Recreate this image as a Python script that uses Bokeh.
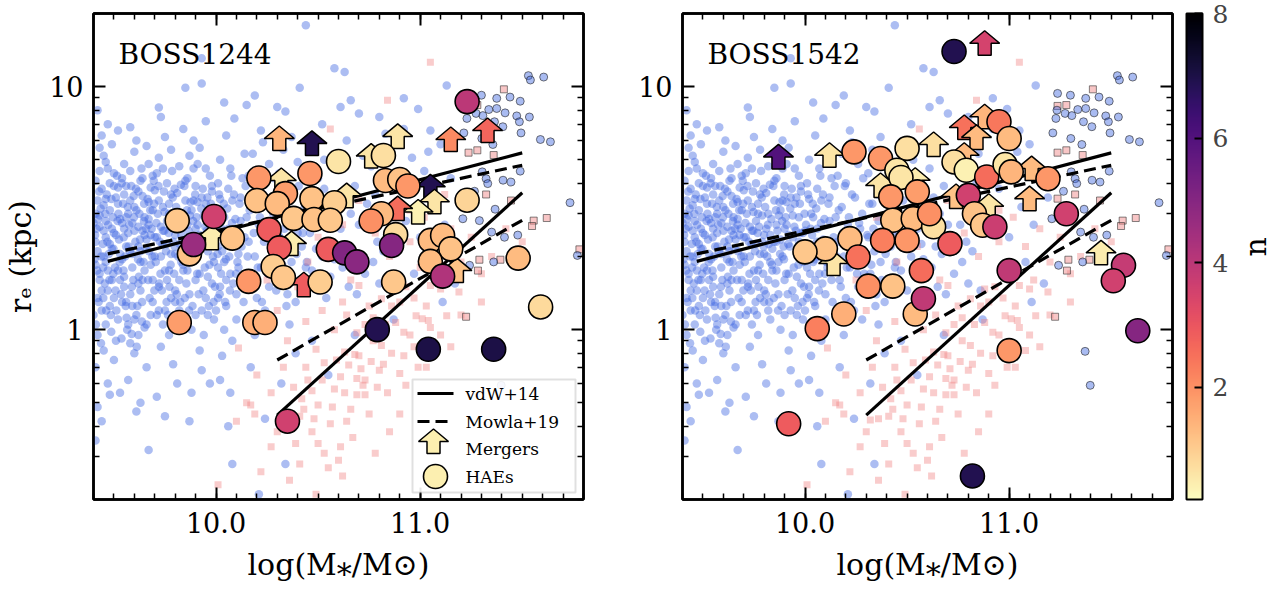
import numpy as np
from bokeh.plotting import figure
from bokeh.models import (LinearColorMapper, ColorBar, FixedTicker, LinearAxis, LogAxis,
                          Range1d, Label, BoxAnnotation, CustomJSTickFormatter)
from bokeh.layouts import row
from bokeh.palettes import Magma256
from bokeh.transform import transform
from bokeh.embed import file_html
from bokeh.resources import INLINE

# ---------------- data ----------------
# field star-forming galaxies (log M*, r_e [kpc]) -- shared background of both panels
field_a = [(9.41,2.3),(9.43,1.6),(9.42,3.4),(9.45,2.0),(9.44,1.2),(9.46,2.8),(9.41,4.1),(9.47,1.45),(9.43,2.65),(9.48,3.1),
           (9.42,0.95),(9.45,5.2),(9.49,2.15),(9.41,1.85),(9.46,1.05),(9.44,3.8),(9.5,2.5),(9.47,4.6),(9.42,1.35),(9.52,1.75),
           (9.43,2.95),(9.51,3.5),(9.45,0.82),(9.53,2.05),(9.48,1.25),(9.4,2.75),(9.54,4.2),(9.49,5.8),(9.52,1.1),(9.46,2.4),
           (9.5,3.9),(9.53,2.85),(9.41,0.7),(9.55,1.5),(9.44,6.3),(9.47,0.6),(9.42,0.48),(9.51,0.9),(9.48,2.25),(9.54,1.95),
           (9.43,1.7),(9.52,3.3),(9.46,4.9),(9.55,2.6),(9.49,1.6),(9.5,0.75),(9.45,3.25),(9.42,8.0),(9.47,7.0),(9.53,0.55),
           (9.41,0.35),(9.44,0.42),(9.48,0.54),(9.52,6.6),(9.54,1.3),(9.4,1.15),(9.5,4.4),(9.46,1.9),(9.43,5.6),(9.55,3.6)]
field_b = [(9.56,2.2),(9.58,1.4),(9.57,3.0),(9.6,2.55),(9.59,1.8),(9.62,3.7),(9.61,1.15),(9.63,2.1),(9.58,4.5),(9.64,1.6),
           (9.6,5.4),(9.65,2.9),(9.62,0.95),(9.66,2.35),(9.57,1.05),(9.67,3.35),(9.63,4.1),(9.68,1.85),(9.59,2.75),(9.69,1.3),
           (9.61,6.0),(9.65,1.02),(9.56,3.9),(9.67,4.8),(9.64,2.55),(9.6,0.8),(9.66,0.7),(9.68,2.45),(9.62,1.55),(9.58,6.8),
           (9.69,3.1),(9.57,0.62),(9.63,0.5),(9.67,0.32),(9.61,0.46),(9.66,5.7),(9.59,1.25),(9.64,3.55),(9.7,2.0),(9.56,2.9),
           (9.62,2.2),(9.68,1.15),(9.72,8.2),(9.58,0.88),(9.65,1.75),(9.6,3.2),(9.69,4.3),(9.55,1.65),(9.63,1.9),(9.67,2.7)]
field_c = [(9.71,2.4),(9.72,1.5),(9.74,3.2),(9.73,2.0),(9.75,1.2),(9.76,2.8),(9.71,4.4),(9.77,1.75),(9.78,3.6),(9.74,1.05),
           (9.79,2.3),(9.72,5.1),(9.8,1.45),(9.76,4.0),(9.81,2.6),(9.73,0.85),(9.82,3.0),(9.75,6.2),(9.83,1.9),(9.77,0.95),
           (9.84,2.15),(9.78,5.5),(9.8,1.3),(9.71,0.53),(9.79,0.72),(9.82,4.7),(9.74,2.55),(9.85,3.4),(9.76,1.6),(9.83,1.1),
           (9.7,3.75),(9.81,0.6),(9.78,2.05),(9.84,6.7),(9.73,7.5),(9.77,3.0),(9.8,2.45),(9.75,0.44),(9.82,1.6),(9.72,1.2)]
field_d = [(9.86,2.3),(9.87,1.4),(9.88,3.1),(9.89,2.0),(9.9,1.15),(9.91,2.7),(9.86,4.2),(9.92,1.7),(9.93,3.5),(9.88,1.0),
           (9.94,2.4),(9.87,5.2),(9.95,1.35),(9.9,3.9),(9.96,2.1),(9.92,0.82),(9.97,2.9),(9.89,6.0),(9.98,1.55),(9.93,0.68),
           (9.99,2.5),(9.91,4.8),(9.96,1.15),(9.85,9.9),(9.93,10.3),(9.93,13.1),(9.95,3.3),(9.88,0.55),(9.97,4.3),(9.99,1.9),
           (9.86,1.75),(9.94,0.95),(9.9,2.6),(9.98,3.7),(9.92,5.6),(9.87,0.42),(9.95,7.2),(10.0,1.2),(9.89,3.4),(9.97,0.6)]
field_e = [(10.01,2.2),(10.02,1.5),(10.03,3.0),(10.04,1.9),(10.05,1.25),(10.06,2.6),(10.01,4.0),(10.07,1.7),(10.08,3.4),(10.04,1.0),
           (10.09,2.35),(10.02,5.0),(10.1,1.4),(10.06,3.8),(10.11,2.05),(10.03,0.78),(10.12,2.8),(10.05,6.3),(10.13,1.6),(10.08,0.9),
           (10.14,2.4),(10.07,4.6),(10.1,1.1),(10.06,0.4),(10.08,0.28),(10.12,3.5),(10.02,0.62),(10.14,5.3),(10.09,7.4),(10.04,8.6),
           (10.11,1.8),(10.13,4.2),(10.01,1.35),(10.15,2.9),(10.07,0.55)]
field_f = [(10.16,2.3),(10.17,1.6),(10.18,3.2),(10.19,2.0),(10.2,1.35),(10.21,2.7),(10.16,4.3),(10.22,1.8),(10.23,3.6),(10.24,1.2),
           (10.25,2.5),(10.18,5.3),(10.26,1.5),(10.2,4.0),(10.27,2.15),(10.19,0.95),(10.28,3.0),(10.22,6.6),(10.29,1.7),(10.24,0.43),
           (10.19,9.2),(10.15,8.4),(10.3,8.25),(10.17,0.7),(10.26,4.8),(10.21,0.21),(10.28,1.1),(10.23,5.9),(10.27,2.6),(10.16,1.1)]
field_g = [(10.31,2.4),(10.32,1.7),(10.33,3.3),(10.34,2.1),(10.35,1.4),(10.36,2.8),(10.31,4.4),(10.37,1.9),(10.38,3.7),(10.39,1.3),
           (10.4,2.5),(10.33,5.5),(10.41,1.6),(10.35,4.1),(10.42,2.2),(10.34,7.9),(10.41,9.9),(10.44,17.9),(10.36,1.05),(10.43,3.0),
           (10.37,6.2),(10.39,0.8),(10.44,1.8),(10.32,0.6),(10.34,0.28),(10.4,4.9),(10.42,2.75)]
field_h = [(10.46,2.5),(10.47,1.75),(10.48,3.4),(10.49,2.15),(10.5,1.45),(10.51,2.9),(10.46,4.5),(10.52,2.0),(10.53,3.8),(10.54,1.35),
           (10.55,2.6),(10.48,5.6),(10.56,1.65),(10.5,4.2),(10.57,2.25),(10.58,11.9),(10.52,7.0),(10.59,3.1),(10.47,0.9),(10.55,0.65),
           (10.53,5.0),(10.58,1.95)]
field_i = [(10.61,2.6),(10.62,1.8),(10.63,3.5),(10.64,2.2),(10.65,1.5),(10.66,3.0),(10.61,4.6),(10.67,2.05),(10.68,3.9),(10.69,1.4),
           (10.7,2.7),(10.63,11.5),(10.61,8.25),(10.66,8.8),(10.7,7.76),(10.72,5.2),(10.64,6.0),(10.73,1.7),(10.74,3.3),(10.68,0.95)]
field_j = [(10.76,2.7),(10.77,1.9),(10.78,3.6),(10.79,2.3),(10.8,1.55),(10.81,3.1),(10.76,4.7),(10.82,2.1),(10.8,7.5),(10.84,4.0),
           (10.86,1.45),(10.85,5.3),(10.88,2.5),(10.83,6.4),(10.89,3.3),(10.87,1.1)]
field_k = [(10.92,8.95),(10.92,6.7),(10.99,8.1),(11.04,5.4),(11.13,10.1),(10.93,2.8),(10.95,3.8),(10.97,1.7),(11.0,2.4),(11.02,4.5),
           (11.06,3.2),(11.08,1.9),(11.1,5.8),(11.12,2.7),(11.15,4.2),(11.17,1.55),(11.19,3.5),(10.96,5.1),(11.05,6.6),(11.11,1.3)]
# dense core of the field cloud
core_a = [(9.405,1.95),(9.415,2.6),(9.425,1.3),(9.435,3.15),(9.445,2.25),(9.455,1.55),(9.465,3.6),(9.475,2.05),(9.485,1.15),(9.495,2.9),
          (9.505,1.8),(9.515,4.3),(9.525,2.35),(9.535,1.4),(9.545,3.3),(9.555,2.0),(9.565,1.0),(9.575,2.7),(9.585,3.9),(9.595,1.6),
          (9.605,2.3),(9.615,1.25),(9.625,3.0),(9.635,4.6),(9.645,1.9),(9.41,3.0),(9.42,2.1),(9.43,4.5),(9.44,1.45),(9.45,2.55),
          (9.46,3.45),(9.47,1.75),(9.48,4.0),(9.49,2.6),(9.5,1.35),(9.51,2.45),(9.52,3.85),(9.53,1.6),(9.54,2.75),(9.55,4.8),
          (9.56,1.3),(9.57,2.5),(9.58,3.4),(9.59,2.05),(9.6,1.1),(9.61,3.1),(9.62,2.65),(9.63,1.45),(9.64,4.2),(9.65,2.45),
          (9.412,1.05),(9.437,0.88),(9.462,1.2),(9.487,0.98),(9.512,1.2),(9.537,0.92),(9.562,1.12),(9.587,0.96),(9.612,0.85),(9.637,1.08)]
core_b = [(9.655,2.15),(9.665,3.45),(9.675,1.35),(9.685,2.6),(9.695,4.1),(9.705,1.9),(9.715,3.0),(9.725,2.3),(9.735,1.45),(9.745,3.7),
          (9.755,2.1),(9.765,1.15),(9.775,2.65),(9.785,4.5),(9.795,1.7),(9.805,3.2),(9.815,2.0),(9.825,1.3),(9.835,2.85),(9.845,3.9),
          (9.855,1.55),(9.865,2.55),(9.875,3.35),(9.885,1.25),(9.895,2.2),(9.66,1.05),(9.67,2.85),(9.68,3.85),(9.69,1.6),(9.7,2.4),
          (9.71,1.15),(9.72,3.4),(9.73,2.65),(9.74,4.6),(9.75,1.75),(9.76,2.25),(9.77,3.3),(9.78,1.35),(9.79,2.95),(9.8,2.05),
          (9.81,3.65),(9.82,1.2),(9.83,2.45),(9.84,1.75),(9.85,4.1),(9.86,2.7),(9.87,1.9),(9.88,2.35),(9.89,4.6),(9.9,1.6)]
core_c = [(9.905,2.9),(9.915,1.4),(9.925,2.2),(9.935,3.8),(9.945,1.8),(9.955,2.55),(9.965,1.25),(9.975,3.3),(9.985,2.0),(9.995,1.5),
          (10.005,2.7),(10.015,3.6),(10.025,1.7),(10.035,2.45),(10.045,1.3),(10.055,3.15),(10.065,2.0),(10.075,4.3),(10.085,1.55),(10.095,2.85),
          (10.105,1.9),(10.115,3.3),(10.125,2.2),(10.135,1.3),(10.145,3.9),(9.91,3.35),(9.92,2.45),(9.93,1.2),(9.94,2.95),(9.95,4.6),
          (9.96,1.65),(9.97,2.3),(9.98,3.9),(9.99,1.1),(10.0,2.55),(10.01,1.8),(10.02,3.45),(10.03,2.1),(10.04,2.9),(10.05,1.6)]
core_d = [(10.155,2.0),(10.165,3.1),(10.175,1.5),(10.185,2.5),(10.195,3.9),(10.205,1.8),(10.215,2.9),(10.225,1.3),(10.235,2.3),(10.245,3.5),
          (10.255,1.7),(10.265,2.75),(10.275,1.95),(10.285,4.2),(10.295,1.45),(10.305,2.45),(10.315,3.3),(10.325,1.85),(10.335,2.6),(10.345,1.25),
          (10.355,3.6),(10.365,2.15),(10.375,1.6),(10.385,2.95),(10.395,2.05),(10.405,3.9),(10.415,1.45),(10.425,2.5),(10.435,3.2),(10.445,1.9)]
core_e = [(9.408,2.45),(9.418,1.75),(9.428,3.7),(9.438,2.0),(9.448,1.35),(9.458,3.0),(9.468,2.3),(9.478,1.6),(9.488,3.45),(9.498,2.15),
          (9.508,1.45),(9.518,2.8),(9.528,1.9),(9.538,4.0),(9.548,2.4),(9.558,1.25),(9.568,3.2),(9.578,2.1),(9.588,1.5),(9.598,2.9),
          (9.608,3.8),(9.618,1.95),(9.628,2.35),(9.638,1.3),(9.648,3.3),(9.658,2.6),(9.668,1.6),(9.678,3.1),(9.688,2.0),(9.698,1.45),
          (9.708,2.75),(9.718,3.9),(9.728,1.7),(9.738,2.25),(9.748,3.05),(9.758,1.3),(9.768,2.5),(9.778,1.85),(9.788,3.5),(9.798,2.2),
          (9.808,1.4),(9.818,2.7),(9.828,3.95),(9.838,1.85),(9.848,2.3),(9.858,3.1),(9.868,1.2),(9.878,2.05),(9.888,2.8),(9.898,3.6),
          (9.908,1.7),(9.918,2.25),(9.928,3.15),(9.938,1.45),(9.948,2.65),(9.958,3.5),(9.968,1.85),(9.978,2.5),(9.988,1.3),(9.998,3.0),
          (10.008,2.05),(10.018,1.4),(10.028,2.6),(10.038,3.3),(10.048,1.95),(10.058,2.3),(10.068,1.45),(10.078,2.75),(10.088,3.6),(10.098,1.7),
          (9.422,2.85),(9.447,1.8),(9.472,2.7),(9.497,1.7),(9.522,3.0),(9.547,1.75),(9.572,2.2),(9.597,3.55),(9.622,1.65),(9.647,2.8),
          (9.672,2.1),(9.697,3.3),(9.722,1.55),(9.747,2.55),(9.772,1.5),(9.797,3.8),(9.822,2.25),(9.847,1.35),(9.872,2.95),(9.897,1.95)]

# field quiescent galaxies
quiescent = [(10.15,0.50),(10.17,0.49),(10.19,0.45),(10.30,0.38),(10.32,0.425),(10.36,0.43),(10.39,0.34),(10.50,0.34),(10.61,0.33),
             (10.60,0.29),(10.50,0.49),(10.57,0.48),(10.64,0.42),(10.48,0.43),(10.41,0.44),(10.44,0.70),(10.53,0.73),(10.61,0.64),
             (10.65,0.715),(10.69,0.63),(10.69,0.54),(10.73,0.54),(10.72,0.59),(10.63,0.81),(10.68,0.79),(10.70,0.78),(10.49,0.83),
             (10.35,0.90),(10.44,1.08),(10.73,1.05),(10.70,1.52),(10.11,0.84),(10.01,0.23),(10.36,0.24),(10.22,0.26),(10.49,0.21),
             (10.81,1.34),(10.88,1.47),(10.93,1.50),(11.05,1.52),(11.10,1.47),(11.19,1.43),(10.98,1.14),(11.01,1.11),(11.04,1.09),
             (11.13,1.14),(10.83,1.05),(10.88,1.07),(10.92,0.975),(11.05,1.02),(10.77,0.90),(10.81,0.86),(10.92,0.78),(10.76,0.74),
             (10.73,0.62),(10.84,0.55),(10.93,0.59),(11.05,12.6),(10.84,8.8),(10.56,6.7),(10.30,1.2),(10.25,1.6),(10.45,1.9),
             (10.55,2.2),(10.62,1.3),(10.78,2.5),(10.85,2.0),(10.95,2.3),(11.0,1.8),(11.08,2.2),(11.15,2.6),(11.2,1.9),(11.25,2.4),
             (11.3,1.7),(10.4,1.5),(10.52,1.2),(10.66,1.6),(10.75,1.25),(10.9,1.3),(11.1,0.95),(11.2,1.15),(10.8,0.68),(10.97,0.85),
             (10.58,0.57),(10.45,0.62),(10.27,0.55),(10.33,0.7),(10.2,0.65),(10.1,0.42),(10.95,3.1),(11.02,2.9),(10.7,3.4),
             (10.62,2.7),(10.5,2.4),(10.35,2.9),(11.12,3.6),(10.9,0.45),(10.85,0.38),(10.78,0.31),(10.55,0.27),(11.03,0.7),
             (11.15,0.85),(10.67,0.36),(10.42,0.52),(11.35,2.0),(11.42,2.6),(11.5,2.3),(11.3,1.3),
             (10.38,0.58),(10.43,0.47),(10.47,0.56),(10.52,0.62),(10.56,0.41),(10.59,0.75),(10.63,0.55),(10.66,0.47),(10.71,0.69),
             (10.75,0.45),(10.79,0.58),(10.82,0.72),(10.86,0.8),(10.9,0.66),(10.95,0.95),(10.99,0.7),(11.03,1.25),(11.08,0.82),
             (10.58,1.0),(10.64,1.15),(10.69,0.97),(10.77,1.12),(10.86,1.25),(10.97,1.35),(11.12,1.6),(10.47,0.38),(10.53,0.31),
             (10.27,0.33),(10.41,0.28),(10.62,0.25)]

# high-mass comparison sample (outlined markers)
massive_sf = [(11.53,11.1),(11.54,10.65),(11.605,10.95),(11.237,9.38),(11.30,9.22),(11.375,8.95),(11.44,9.06),(11.49,8.71),
              (11.234,8.0),(11.274,7.76),(11.307,7.6),(11.336,8.05),(11.375,8.13),(11.416,7.8),(11.473,7.58),(11.535,7.5),
              (11.229,7.4),(11.364,7.17),(11.405,6.84),(11.486,7.17),(11.214,6.45),(11.302,6.12),(11.356,5.78),(11.494,6.45),
              (11.589,6.06),(11.638,5.93),(11.304,4.46),(11.323,4.18),(11.331,3.99),(11.406,4.12),(11.445,4.05),(11.49,4.49),
              (11.266,3.71),(11.367,3.13),(11.734,3.33),(11.209,2.86),(11.242,1.84),(11.413,2.40),(11.478,2.45),(11.77,2.02),
              (11.372,0.814),(11.397,0.59),(11.36,1.9),(11.29,2.81),(11.35,2.52)]
massive_q = [(11.41,9.75),(11.237,8.33),(11.28,8.4),(11.237,5.35),(11.28,5.47),(11.36,5.23),(11.237,3.46),(11.323,3.6),
             (11.445,3.4),(11.556,2.81),(11.548,2.67),(11.62,2.88),(11.393,1.94),(11.29,1.94),(11.283,1.75),(11.78,2.14),(11.225,1.13)]

# size-mass relations (end points)
vdw_sf_mass, vdw_sf_re = [9.47, 11.50], [1.91, 5.34]
mowla_sf_mass, mowla_sf_re = [9.47, 11.50], [2.05, 4.75]
vdw_q_mass, vdw_q_re = [10.30, 11.50], [0.445, 3.66]
mowla_q_mass, mowla_q_re = [10.30, 11.50], [0.75, 2.82]

# BOSS1244
b1244_hae_mass = [11.23,10.60,10.82,10.21,10.46,10.20,10.34,10.30,10.47,10.58,10.38,10.48,10.56,9.99,9.81,10.08,9.87,9.89,10.26,10.31,
                  10.28,10.33,10.16,10.51,10.55,10.83,10.90,10.94,11.23,10.81,10.76,10.88,10.86,10.63,10.69,11.05,11.11,11.15,11.05,11.11,
                  10.87,11.48,11.59,10.79,11.04,11.36,9.82,10.19,10.24,10.35]
b1244_hae_re = [8.68,4.92,5.21,4.21,4.39,3.40,3.63,3.30,3.46,3.33,2.87,2.84,2.82,2.92,2.81,2.38,2.05,2.24,2.58,2.17,
                1.82,1.64,1.58,1.57,2.14,4.11,4.15,3.90,3.41,3.00,2.80,2.46,2.22,2.07,1.90,2.33,2.44,2.15,1.91,1.66,
                1.57,1.97,1.24,1.00,0.83,0.83,1.07,1.07,1.07,0.42]
b1244_hae_n = [4.0,0.6,0.7,1.9,1.9,1.2,1.8,1.3,1.2,1.0,1.1,1.2,1.1,3.6,1.1,1.2,1.2,4.6,2.9,2.9,
               1.0,1.1,1.9,1.0,2.9,1.3,1.2,1.9,0.9,1.3,2.0,0.8,5.0,5.1,4.9,1.3,1.3,1.2,1.3,4.2,
               1.1,1.3,0.8,6.9,7.0,7.0,1.8,1.5,1.5,3.6]
b1244_mrg_mass = [10.31,10.47,10.89,11.15,11.33,10.76,11.05,11.07,10.99,10.89,9.98,10.37,10.43,11.18,10.32,10.64]
b1244_mrg_re = [6.12,5.84,6.24,6.06,6.60,5.18,3.87,3.36,3.05,3.15,2.39,2.26,1.53,1.75,4.11,3.56]
b1244_mrg_n = [1.4,6.9,0.6,2.1,2.7,0.6,6.9,0.6,0.4,2.6,0.5,0.5,2.9,1.2,0.6,0.6]

# BOSS1542
b1542_hae_mass = [10.73,10.24,10.37,10.50,10.45,10.47,10.73,10.79,10.42,10.55,10.43,10.53,10.63,10.61,10.71,10.38,10.50,10.22,10.10,10.00,
                  10.26,10.57,10.31,10.43,10.54,10.58,10.19,10.06,9.92,10.95,11.00,10.89,10.98,11.01,11.19,10.80,10.83,10.87,10.93,11.28,
                  11.56,11.51,11.00,11.00,11.63,10.82]
b1542_hae_re = [13.95,5.39,5.06,5.57,4.53,4.23,4.90,4.53,3.52,3.69,2.82,2.86,2.65,3.00,2.26,2.33,2.33,2.37,2.15,2.09,
                1.99,1.75,1.51,1.51,1.16,1.34,1.16,1.01,0.41,7.17,6.12,4.25,4.78,4.46,4.18,3.57,3.00,2.69,2.65,3.00,
                1.84,1.59,1.75,0.82,0.99,0.25]
b1542_hae_n = [6.9,1.9,1.9,0.7,0.6,0.6,0.7,0.4,1.9,1.8,1.2,1.3,0.7,2.0,2.9,2.3,1.9,1.3,1.2,1.1,
               2.5,2.6,2.0,1.2,1.3,3.9,1.5,2.3,2.9,2.4,1.3,2.6,0.6,1.4,1.9,3.6,1.2,1.1,3.7,3.6,
               3.8,3.6,3.9,1.9,5.0,6.9]
b1542_mrg_mass = [9.87,10.12,10.63,10.54,10.14,10.37,10.88,10.88,10.78,10.84,10.78,11.11,11.10,10.90,10.74,11.45]
b1542_mrg_re = [5.14,5.22,5.78,4.12,1.87,3.92,15.09,7.52,6.79,6.18,5.22,4.60,3.46,3.22,3.53,2.07]
b1542_mrg_n = [6.0,0.6,0.7,0.5,0.6,0.6,3.5,1.4,2.5,1.3,1.3,1.3,1.3,0.6,1.2,0.5]

n_ticks = [2, 4, 6, 8]
legend_labels = ["vdW+14", "Mowla+19", "Mergers", "HAEs"]

# ---------------- styling ----------------
FONT = "DejaVu Serif"
XMIN, XMAX = 9.4, 11.8
YMIN, YMAX = 0.2, 20.0
FW, FH = 490, 486
PPX = FW / (XMAX - XMIN)
PPY = FH / np.log10(YMAX / YMIN)
ARROW = [(-6.5, -12), (6.5, -12), (6.5, 0), (15, 0), (0, 12.5), (-15, 0), (-6.5, 0)]
LEGEND_FILL = "#fcefb0"

mapper = LinearColorMapper(palette=list(reversed(Magma256)), low=0.2, high=8)

field = (field_a + field_b + field_c + field_d + field_e + field_f + field_g + field_h + field_i + field_j + field_k
         + core_a + core_b + core_c + core_d + core_e)


def arrow_polys(ms, rs):
    xs, ys = [], []
    for m, r in zip(ms, rs):
        xs.append([float(m + dx / PPX) for dx, dy in ARROW])
        ys.append([float(r * 10 ** (dy / PPY)) for dx, dy in ARROW])
    return xs, ys


def to_data_x(px_from_left):
    return float(XMIN + px_from_left / PPX)


def to_data_y(px_from_top):
    return float(YMAX / 10 ** (px_from_top / PPY))


def style_axis(ax, labels=True):
    ax.axis_line_width = 2.5
    ax.axis_line_color = "black"
    ax.major_tick_in = 12
    ax.major_tick_out = 0
    ax.minor_tick_in = 6
    ax.minor_tick_out = 0
    ax.major_tick_line_width = 2
    ax.minor_tick_line_width = 1.5
    ax.major_label_text_font = FONT
    ax.major_label_text_font_size = "27px"
    ax.major_label_text_color = "black"
    ax.axis_label_text_font = FONT
    ax.axis_label_text_font_size = "30px"
    ax.axis_label_text_font_style = "normal"
    ax.axis_label_text_color = "black"
    if not labels:
        ax.formatter = CustomJSTickFormatter(code="return '';")
        ax.major_label_text_font_size = "2px"
        ax.major_label_standoff = 0


def make_panel(name, hae_m, hae_r, hae_n, mrg_m, mrg_r, mrg_n, ylabel, legend, colorbar, mbl, mbr):
    p = figure(x_range=Range1d(XMIN, XMAX), y_range=Range1d(YMIN, YMAX), y_axis_type="log",
               frame_width=FW, frame_height=FH, output_backend="svg", toolbar_location=None,
               min_border_left=mbl, min_border_right=mbr, min_border_top=13, min_border_bottom=80,
               background_fill_color="white", border_fill_color="white")
    p.grid.visible = False
    p.outline_line_color = "black"
    p.outline_line_width = 2.5

    xt = FixedTicker(ticks=[10, 11], minor_ticks=[float(v) for v in np.round(np.arange(9.4, 11.81, 0.1), 2)])
    yt = FixedTicker(ticks=[1, 10], minor_ticks=[0.2, 0.3, 0.4, 0.5, 0.6, 0.7, 0.8, 0.9,
                                                 2, 3, 4, 5, 6, 7, 8, 9, 20])
    p.xaxis.ticker = xt
    p.yaxis.ticker = yt
    p.xaxis.formatter = CustomJSTickFormatter(code="return tick.toFixed(1);")
    p.yaxis.formatter = CustomJSTickFormatter(code="return tick.toFixed(0);")
    p.xaxis.axis_label = "log(M\u204e/M\u2299)"
    style_axis(p.xaxis[0])
    style_axis(p.yaxis[0])
    p.xaxis.major_label_standoff = 12
    p.xaxis.axis_label_standoff = 11
    p.yaxis.major_label_standoff = 10
    if ylabel:
        p.yaxis.axis_label = "r\u2091 (kpc)"
        p.yaxis.axis_label_standoff = 8
    top = LinearAxis(ticker=FixedTicker(ticks=xt.ticks, minor_ticks=xt.minor_ticks))
    right = LogAxis(ticker=FixedTicker(ticks=yt.ticks, minor_ticks=yt.minor_ticks))
    style_axis(top, labels=False)
    style_axis(right, labels=False)
    p.add_layout(top, "above")
    p.add_layout(right, "right")

    fx, fy = zip(*field)
    p.scatter(list(fx), list(fy), marker="circle", size=8.5, fill_color="#4169E1", fill_alpha=0.44, line_color=None)
    qx, qy = zip(*quiescent)
    p.scatter(list(qx), list(qy), marker="square", size=7, fill_color="#F08080", fill_alpha=0.4, line_color=None)
    sx, sy = zip(*massive_q)
    p.scatter(list(sx), list(sy), marker="square", size=7, fill_color="#F08080", fill_alpha=0.45,
              line_color="#333333", line_alpha=0.6, line_width=1)
    cx, cy = zip(*massive_sf)
    p.scatter(list(cx), list(cy), marker="circle", size=8, fill_color="#4169E1", fill_alpha=0.45,
              line_color="#222222", line_alpha=0.6, line_width=1)

    p.line(vdw_sf_mass, vdw_sf_re, line_color="black", line_width=3.2)
    p.line(mowla_sf_mass, mowla_sf_re, line_color="black", line_width=3.2, line_dash="12 6")
    p.line(vdw_q_mass, vdw_q_re, line_color="black", line_width=3.2)
    p.line(mowla_q_mass, mowla_q_re, line_color="black", line_width=3.2, line_dash="12 6")

    axs, ays = arrow_polys(mrg_m, mrg_r)
    p.patches(xs="xs", ys="ys", source=dict(xs=axs, ys=ays, n=mrg_n),
              fill_color=transform("n", mapper), line_color="black", line_width=1.5)
    p.scatter(x="m", y="r", source=dict(m=hae_m, r=hae_r, n=hae_n), marker="circle", size=24,
              fill_color=transform("n", mapper), line_color="black", line_width=1.6)

    p.add_layout(Label(x=to_data_x(25), y=to_data_y(41), text=name, text_font=FONT,
                       text_font_size="28px", text_color="black", text_baseline="alphabetic"))

    if legend:
        box = BoxAnnotation(left=to_data_x(319), right=to_data_x(482), top=to_data_y(366), bottom=to_data_y(479),
                            fill_color="white", fill_alpha=0.9, line_color="#999999", line_width=2)
        p.add_layout(box)
        ky = [to_data_y(380), to_data_y(408), to_data_y(430), to_data_y(463)]
        x0, x1, xt_ = to_data_x(324), to_data_x(360), to_data_x(372)
        p.line([x0, x1], [ky[0], ky[0]], line_color="black", line_width=3.2, level="overlay")
        p.line([x0, x1], [ky[1], ky[1]], line_color="black", line_width=3.2, line_dash="12 6", level="overlay")
        lx, ly = arrow_polys([to_data_x(340)], [to_data_y(428)])
        p.patches(lx, ly, fill_color=LEGEND_FILL, line_color="black", line_width=1.5, level="overlay")
        p.scatter([to_data_x(342)], [ky[3]], marker="circle", size=24, fill_color=LEGEND_FILL,
                  line_color="black", line_width=1.6, level="overlay")
        for txt, yy in zip(legend_labels, [ky[0], ky[1], to_data_y(435), ky[3]]):
            p.add_layout(Label(x=xt_, y=yy, text=txt, text_font=FONT, text_font_size="17px",
                               text_color="black", text_baseline="middle", level="overlay"))

    if colorbar:
        cb = ColorBar(color_mapper=mapper, ticker=FixedTicker(ticks=n_ticks), width=16, height=FH,
                      location=(14, 0), margin=0, padding=0,
                      bar_line_color="black", bar_line_width=2, major_tick_in=8, major_tick_out=0,
                      major_tick_line_color="black", major_tick_line_width=2, minor_tick_line_color=None,
                      major_label_text_font=FONT, major_label_text_font_size="25px", label_standoff=10,
                      border_line_color=None, background_fill_alpha=0)
        p.add_layout(cb, "right")
        n_axis = LogAxis(ticker=FixedTicker(ticks=[], minor_ticks=[]), axis_label="n",
                         axis_line_color=None, major_tick_line_color=None, minor_tick_line_color=None,
                         formatter=CustomJSTickFormatter(code="return '';"),
                         major_label_text_font_size="2px", major_label_standoff=0,
                         axis_label_standoff=24, axis_label_text_font=FONT, axis_label_text_font_size="30px",
                         axis_label_text_font_style="normal", axis_label_text_color="black",
                         axis_label_orientation=float(np.pi / 2))
        p.add_layout(n_axis, "right")
    return p


p1 = make_panel("BOSS1244", b1244_hae_mass, b1244_hae_re, b1244_hae_n,
                b1244_mrg_mass, b1244_mrg_re, b1244_mrg_n, True, True, False, 88, 10)
p2 = make_panel("BOSS1542", b1542_hae_mass, b1542_hae_re, b1542_hae_n,
                b1542_mrg_mass, b1542_mrg_re, b1542_mrg_n, False, False, True, 89, 100)

layout = row(p1, p2)
open("out.html", "w").write(file_html(layout, INLINE))
